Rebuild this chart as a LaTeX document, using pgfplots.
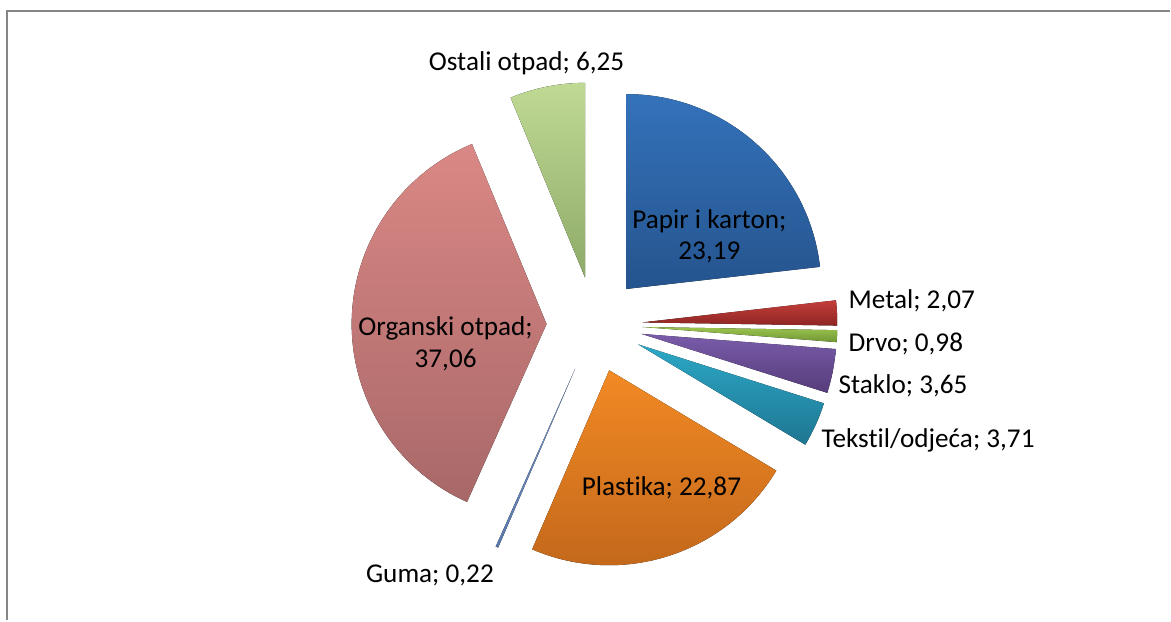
\documentclass[border=0pt]{standalone}
\usepackage{pgfplots}
\usepackage{pgfplotstable}
\usepackage{fontspec}
\setmainfont{Carlito}[Ligatures=NoCommon]
\pgfplotsset{compat=1.18}
\usetikzlibrary{calc}

% slice colours (top / bottom of the gradient)
\definecolor{t0}{RGB}{52,114,186}  \definecolor{b0}{RGB}{37,84,142}
\definecolor{t1}{RGB}{196,62,58}   \definecolor{b1}{RGB}{142,38,36}
\definecolor{t2}{RGB}{156,196,78}  \definecolor{b2}{RGB}{112,150,52}
\definecolor{t3}{RGB}{122,92,170}  \definecolor{b3}{RGB}{86,60,122}
\definecolor{t4}{RGB}{44,168,198}  \definecolor{b4}{RGB}{30,118,146}
\definecolor{t5}{RGB}{242,138,36}  \definecolor{b5}{RGB}{190,100,26}
\definecolor{t6}{RGB}{120,150,200} \definecolor{b6}{RGB}{90,120,170}
\definecolor{t7}{RGB}{218,136,133} \definecolor{b7}{RGB}{168,104,104}
\definecolor{t8}{RGB}{192,218,148} \definecolor{b8}{RGB}{142,170,104}
\definecolor{framegray}{RGB}{134,134,134}

\pgfplotstableread[col sep=comma]{
name,value
Papir i karton,23.19
Metal,2.07
Drvo,0.98
Staklo,3.65
Tekstil/odjeća,3.71
Plastika,22.87
Guma,0.22
Organski otpad,37.06
Ostali otpad,6.25
}\piedata

\begin{document}
\begin{tikzpicture}
% cumulative angles (Excel: start at 12 o'clock, clockwise)
\pgfplotstablegetrowsof{\piedata}
\pgfmathtruncatemacro\lastrow{\pgfplotsretval-1}
\xdef\cum{0}
\foreach \i in {0,...,\lastrow}{
  \pgfplotstablegetelem{\i}{value}\of\piedata
  \let\val\pgfplotsretval
  \pgfmathsetmacro\sa{90-3.6*\cum}
  \pgfmathsetmacro\ea{90-3.6*(\cum+\val)}
  \pgfmathsetmacro\ma{(\sa+\ea)/2}
  \pgfmathsetmacro\nc{\cum+\val}
  \expandafter\xdef\csname sA\i\endcsname{\sa}
  \expandafter\xdef\csname eA\i\endcsname{\ea}
  \expandafter\xdef\csname mA\i\endcsname{\ma}
  \xdef\cum{\nc}
}
\begin{axis}[
  x=0.5pt, y=0.5pt,
  xmin=0, xmax=1171, ymin=0, ymax=621,
  enlargelimits=false,
  hide axis,
  clip=false,
]
\path (axis cs:0,0) rectangle (axis cs:1171,621);
% frame (left and top edges only)
\draw[framegray, line width=1pt] (axis cs:7.5,0) -- (axis cs:7.5,609.5) -- (axis cs:1171,609.5);
% exploded slices
\pgfplotsinvokeforeach{0,...,8}{
  \fill[top color=t#1, bottom color=b#1]
    ($(axis cs:595,296)+(\csname mA#1\endcsname:24pt)$)
    -- ++(\csname sA#1\endcsname:97.5pt)
    arc[start angle=\csname sA#1\endcsname, end angle=\csname eA#1\endcsname, radius=97.5pt]
    -- cycle;
}
% data labels
\begin{scope}[every node/.style={inner sep=0pt, font=\fontsize{13.6}{16}\selectfont, text=black}]
\node at (axis cs:527,558) {Ostali otpad; 6,25};
\node[align=center] at (axis cs:710,384.5) {Papir i karton;\\23,19};
\node[anchor=west] at (axis cs:849,320) {Metal; 2,07};
\node[anchor=west] at (axis cs:849,277) {Drvo; 0,98};
\node[anchor=west] at (axis cs:839,235) {Staklo; 3,65};
\node[anchor=west] at (axis cs:822,180) {Tekstil/odjeća; 3,71};
\node at (axis cs:662,133) {Plastika; 22,87};
\node[anchor=west] at (axis cs:366,45) {Guma; 0,22};
\node[align=center] at (axis cs:446,277) {Organski otpad;\\37,06};
\end{scope}
\end{axis}
\end{tikzpicture}
\end{document}
